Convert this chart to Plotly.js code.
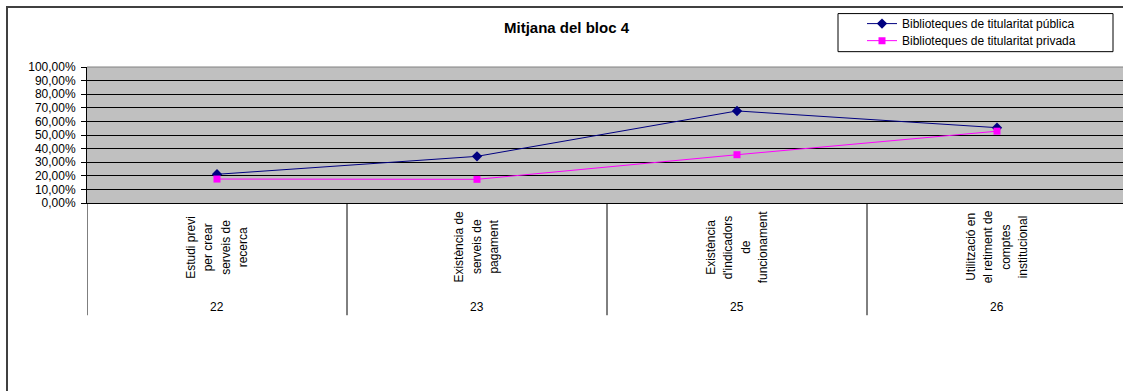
<!DOCTYPE html>
<html>
<head>
<meta charset="utf-8">
<script src="https://cdn.plot.ly/plotly-3.0.1.min.js"></script>
<style>
html,body{margin:0;padding:0;background:#fff;overflow:hidden;}
#chart{width:1123px;height:391px;}
#frame{position:absolute;left:6px;top:6px;width:3000px;height:3000px;border-top:2px solid #404040;border-left:2px solid #404040;pointer-events:none;}
</style>
</head>
<body>
<div id="chart"></div>
<div id="frame"></div>
<script>
// ---- data ----
const codes = ["22", "23", "25", "26"];
const labelLines = [
  ["Estudi previ", "per crear", "serveis de", "recerca"],
  ["Existència de", "serveis de", "pagament"],
  ["Existència", "d'indicadors", "de", "funcionament"],
  ["Utilització en", "el retiment de", "comptes", "institucional"]
];
const seriesNames = ["Biblioteques de titularitat pública", "Biblioteques de titularitat privada"];
const publica = [0.211, 0.343, 0.677, 0.554];
const privada = [0.176, 0.174, 0.355, 0.528];
const yTicks = [0, 0.1, 0.2, 0.3, 0.4, 0.5, 0.6, 0.7, 0.8, 0.9, 1.0];

const xIdx = codes.map((c, i) => i);
const font = "Liberation Sans, Arial, sans-serif";
const py = p => (203 - p) / 135.7;   // pixel row -> paper y
const px = p => (p - 87) / 1036;     // pixel col -> paper x

const traces = [
  {x: xIdx, y: publica, name: seriesNames[0], type: "scatter", mode: "lines+markers", legend: "legend",
   line: {color: "#000080", width: 1}, marker: {symbol: "diamond", size: 8, color: "#000080"}},
  {x: xIdx, y: privada, name: seriesNames[1], type: "scatter", mode: "lines+markers", legend: "legend2",
   line: {color: "#FF00FF", width: 1}, marker: {symbol: "square", size: 7, color: "#FF00FF"}}
];

const annotations = [];
labelLines.forEach((lines, i) => {
  const n = lines.length;
  lines.forEach((t, j) => {
    annotations.push({x: i, xref: "x", y: py(247), yref: "paper", xanchor: "center", yanchor: "middle",
      text: t, showarrow: false, textangle: -90, xshift: (j - (n - 1) / 2) * 17.5,
      font: {family: font, size: 12, color: "#000"}});
  });
  annotations.push({x: i, xref: "x", y: py(307), yref: "paper", xanchor: "center", yanchor: "middle",
    text: codes[i], showarrow: false, font: {family: font, size: 12, color: "#000"}});
});
annotations.push({xref: "paper", yref: "paper", x: px(567), y: py(28), xanchor: "center", yanchor: "middle",
  text: "<b>Mitjana del bloc 4</b>", showarrow: false, font: {family: font, size: 15, color: "#000"}});

const shapes = [];
[-0.5, 0.5, 1.5, 2.5].forEach(b => {
  shapes.push({type: "line", xref: "x", yref: "paper", x0: b, x1: b, y0: 0, y1: py(315),
    line: {color: "#000", width: 1}});
});
shapes.push({type: "line", xref: "paper", yref: "paper", x0: 0, x1: 1, y0: 1, y1: 1, line: {color: "#808080", width: 1}});
shapes.push({type: "rect", xref: "paper", yref: "paper", x0: px(838), x1: px(1113),
  y0: py(14), y1: py(52), line: {color: "#000", width: 1}, fillcolor: "rgba(0,0,0,0)"});

const legendStyle = (yPix) => ({x: px(862), y: py(yPix), xanchor: "left", yanchor: "middle",
  bgcolor: "rgba(0,0,0,0)", borderwidth: 0, font: {family: font, size: 12, color: "#000"}});

const layout = {
  width: 1123, height: 391,
  margin: {l: 87, r: 0, t: 67, b: 188, pad: 0},
  paper_bgcolor: "rgba(0,0,0,0)",
  plot_bgcolor: "#C0C0C0",
  separators: ",.",
  showlegend: true,
  legend: legendStyle(24),
  legend2: legendStyle(41),
  xaxis: {range: [-0.5, -0.5 + 1036 / 260], showgrid: false, zeroline: false, showticklabels: false,
    showline: true, linecolor: "#000", linewidth: 1, ticks: "", fixedrange: true},
  yaxis: {range: [0, 1], tickvals: yTicks, tickformat: ".2%", showgrid: true, gridcolor: "#000", gridwidth: 1,
    zeroline: false, showline: true, linecolor: "#000", linewidth: 1, ticks: "outside", ticklen: 5,
    ticklabelstandoff: 3,
    tickcolor: "#000", tickfont: {family: font, size: 12, color: "#000"}, fixedrange: true},
  annotations: annotations,
  shapes: shapes
};

Plotly.newPlot("chart", traces, layout, {displayModeBar: false, staticPlot: true});
</script>
</body>
</html>
